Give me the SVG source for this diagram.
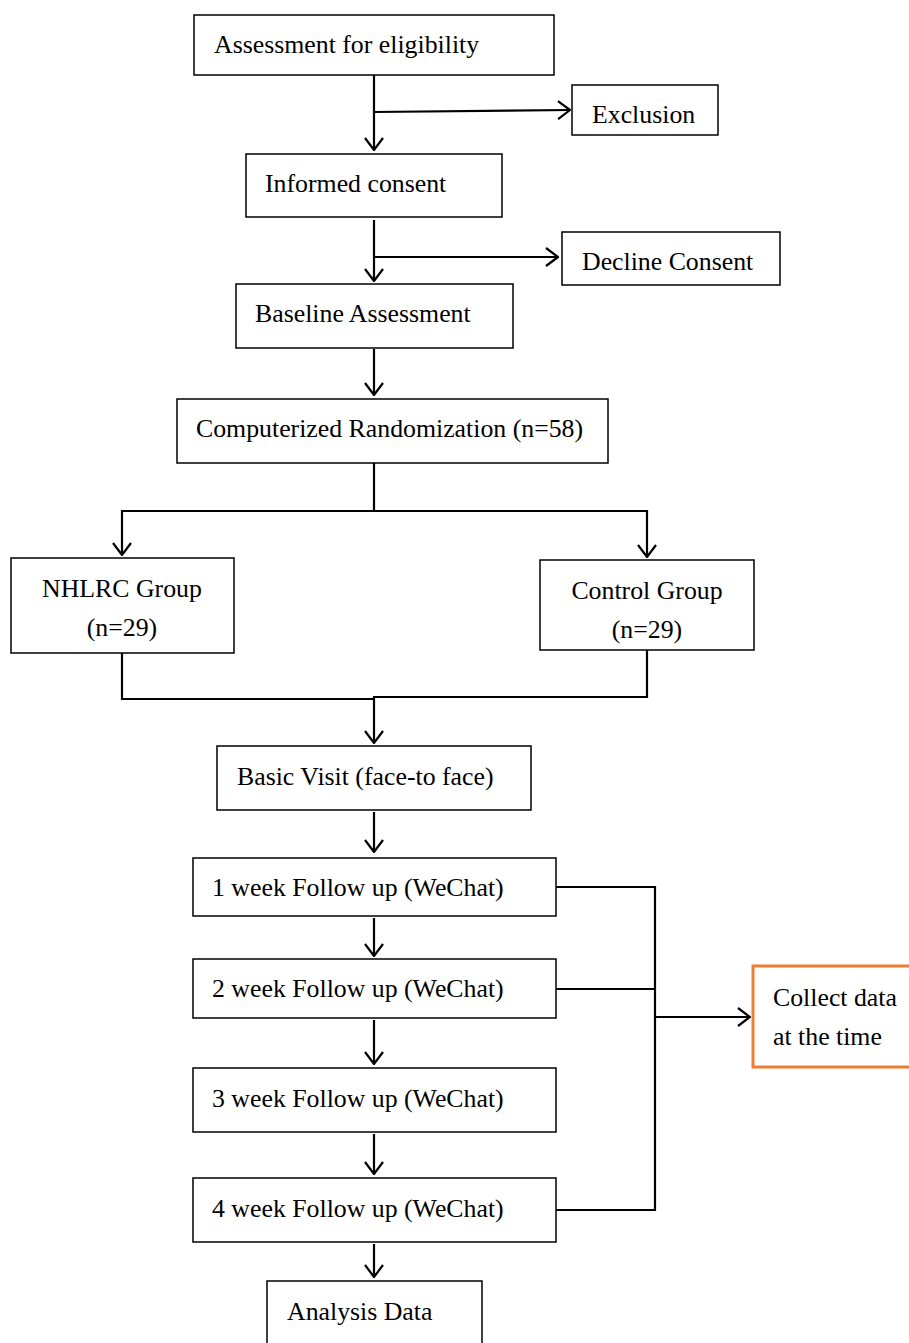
<svg xmlns="http://www.w3.org/2000/svg" width="909" height="1343" viewBox="0 0 909 1343">
<style>
.box{fill:#fff;stroke:#000;stroke-width:1.5}
.obox{fill:#fff;stroke:#ED7D31;stroke-width:3}
.t{font-family:"Liberation Serif","Times New Roman",serif;font-size:25.8px;fill:#000}
.c{text-anchor:middle}
.ln{fill:none;stroke:#000;stroke-width:2.2}
</style>
<defs>
<marker id="ah" viewBox="0 0 14 20" refX="13" refY="10" markerWidth="14" markerHeight="20" markerUnits="userSpaceOnUse" orient="auto">
<path d="M1,1 L13,10 L1,19" fill="none" stroke="#000" stroke-width="2.2"/>
</marker>
</defs>
<rect width="909" height="1343" fill="#fff"/>
<g id="connectors">
<path class="ln" d="M374,75 V150" marker-end="url(#ah)"/>
<path class="ln" d="M374,112 L570,110" marker-end="url(#ah)"/>
<path class="ln" d="M374,220 V281" marker-end="url(#ah)"/>
<path class="ln" d="M374,257 H558" marker-end="url(#ah)"/>
<path class="ln" d="M374,349 V395" marker-end="url(#ah)"/>
<path class="ln" d="M374,463 V511 H122 V555" marker-end="url(#ah)"/>
<path class="ln" d="M374,511 H647 V557" marker-end="url(#ah)"/>
<path class="ln" d="M122,653 V699 H374"/>
<path class="ln" d="M647,650 V697 H374 V743" marker-end="url(#ah)"/>
<path class="ln" d="M374,812 V852" marker-end="url(#ah)"/>
<path class="ln" d="M374,918 V956" marker-end="url(#ah)"/>
<path class="ln" d="M374,1020 V1064" marker-end="url(#ah)"/>
<path class="ln" d="M374,1134 V1174" marker-end="url(#ah)"/>
<path class="ln" d="M374,1244 V1277" marker-end="url(#ah)"/>
<path class="ln" d="M556,887 H655 V1210 H556"/>
<path class="ln" d="M556,989 H655"/>
<path class="ln" d="M655,1017 H750" marker-end="url(#ah)"/>
</g>
<g id="n-eligibility"><rect class="box" x="194" y="15" width="360" height="60"/><text class="t" x="214" y="53">Assessment for eligibility</text></g>
<g id="n-exclusion"><rect class="box" x="572" y="85" width="146" height="50"/><text class="t" x="592" y="123">Exclusion</text></g>
<g id="n-consent"><rect class="box" x="246" y="154" width="256" height="63"/><text class="t" x="265" y="192">Informed consent</text></g>
<g id="n-decline"><rect class="box" x="562" y="232" width="218" height="53"/><text class="t" x="582" y="270">Decline Consent</text></g>
<g id="n-baseline"><rect class="box" x="236" y="284" width="277" height="64"/><text class="t" x="255" y="322">Baseline Assessment</text></g>
<g id="n-random"><rect class="box" x="177" y="399" width="431" height="64"/><text class="t" x="196" y="437">Computerized Randomization (n=58)</text></g>
<g id="n-nhlrc"><rect class="box" x="11" y="558" width="223" height="95"/><text class="t c" x="122" y="597">NHLRC Group</text><text class="t c" x="122" y="636">(n=29)</text></g>
<g id="n-control"><rect class="box" x="540" y="560" width="214" height="90"/><text class="t c" x="647" y="599">Control Group</text><text class="t c" x="647" y="638">(n=29)</text></g>
<g id="n-basic"><rect class="box" x="217" y="746" width="314" height="64"/><text class="t" x="237" y="785">Basic Visit (face-to face)</text></g>
<g id="n-w1"><rect class="box" x="193" y="858" width="363" height="58"/><text class="t" x="212" y="896">1 week Follow up (WeChat)</text></g>
<g id="n-w2"><rect class="box" x="193" y="959" width="363" height="59"/><text class="t" x="212" y="997">2 week Follow up (WeChat)</text></g>
<g id="n-w3"><rect class="box" x="193" y="1068" width="363" height="64"/><text class="t" x="212" y="1107">3 week Follow up (WeChat)</text></g>
<g id="n-w4"><rect class="box" x="193" y="1178" width="363" height="64"/><text class="t" x="212" y="1217">4 week Follow up (WeChat)</text></g>
<g id="n-analysis"><rect class="box" x="267" y="1281" width="215" height="80"/><text class="t" x="287" y="1320">Analysis Data</text></g>
<g id="n-collect"><rect class="obox" x="753" y="966" width="170" height="101"/><text class="t" x="773" y="1006">Collect data</text><text class="t" x="773" y="1045">at the time</text></g>
</svg>
